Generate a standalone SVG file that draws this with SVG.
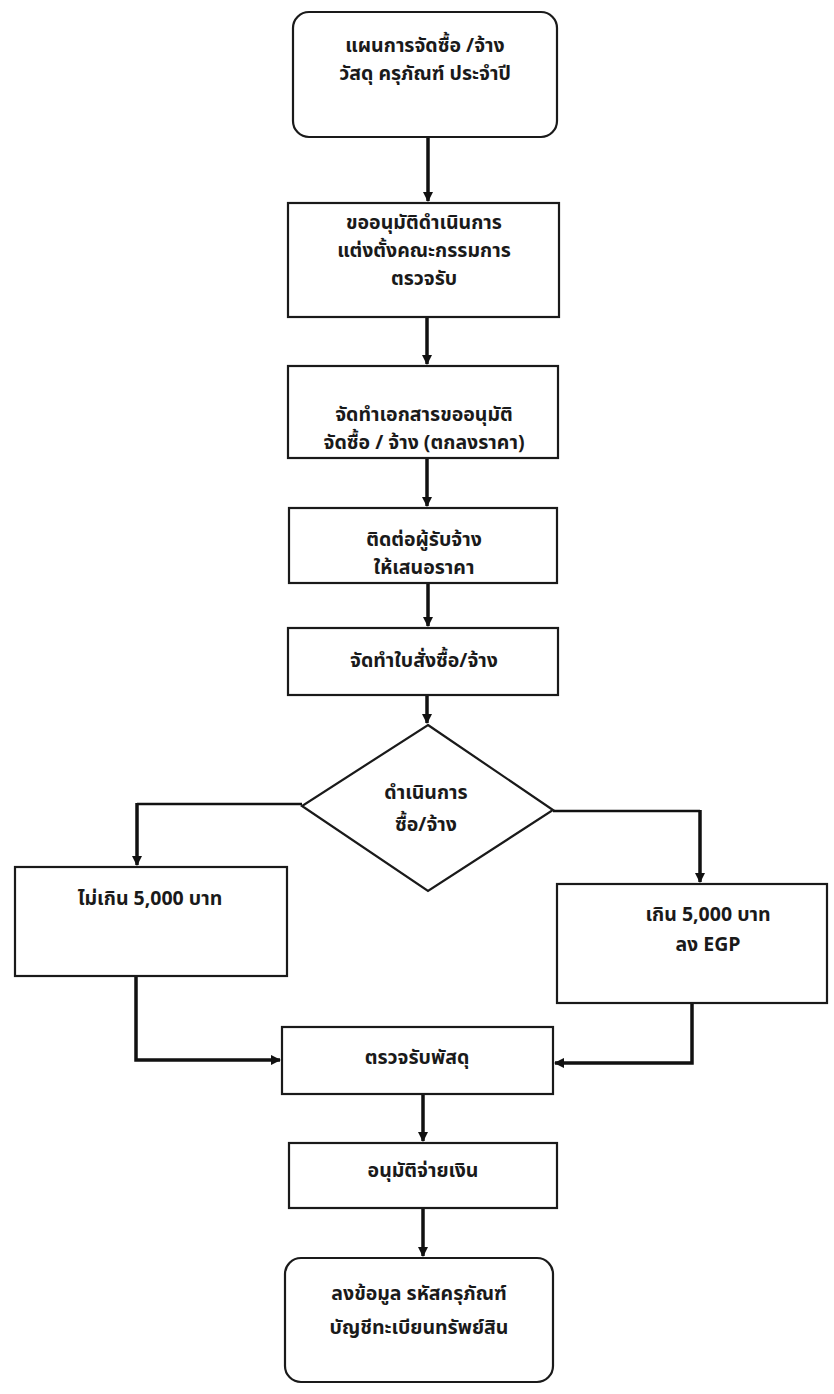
<svg xmlns="http://www.w3.org/2000/svg" width="834" height="1394" viewBox="0 0 834 1394">
<defs>
<style>
.box{fill:#fff;stroke:#1a1a1a;stroke-width:2.2}
.t{font-family:"Noto Sans Thai","Noto Sans","DejaVu Sans",sans-serif;font-size:19.5px;font-weight:bold;fill:#1a1a1a;text-anchor:middle}
.c{fill:none;stroke:#111;stroke-width:3.5}
</style>
<marker id="ah" viewBox="0 0 10 10" refX="9" refY="5" markerWidth="3" markerHeight="3" orient="auto" markerUnits="strokeWidth">
<path d="M0,0 L10,5 L0,10 Z" fill="#111"/>
</marker>
</defs>
<rect width="834" height="1394" fill="#fff"/>
<g id="connectors">
<line class="c" x1="428" y1="137" x2="428" y2="201" marker-end="url(#ah)"/>
<line class="c" x1="427" y1="317" x2="427" y2="364" marker-end="url(#ah)"/>
<line class="c" x1="427" y1="458" x2="427" y2="506" marker-end="url(#ah)"/>
<line class="c" x1="428" y1="583" x2="428" y2="626" marker-end="url(#ah)"/>
<line class="c" x1="427" y1="695" x2="427" y2="723" marker-end="url(#ah)"/>
<polyline class="c" style="stroke-width:2.5" points="302,804 137,804"/>
<line class="c" x1="137" y1="803" x2="137" y2="865" marker-end="url(#ah)"/>
<polyline class="c" style="stroke-width:2.5" points="553,811 700,811"/>
<line class="c" x1="700" y1="810" x2="700" y2="882" marker-end="url(#ah)"/>
<polyline class="c" points="136,976 136,1060 280,1060" marker-end="url(#ah)"/>
<polyline class="c" points="692,1003 692,1063 555,1063" marker-end="url(#ah)"/>
<line class="c" x1="423" y1="1094" x2="423" y2="1141" marker-end="url(#ah)"/>
<line class="c" x1="423" y1="1208" x2="423" y2="1256" marker-end="url(#ah)"/>
</g>
<g id="n1">
<rect class="box" x="293" y="12" width="264" height="125" rx="16"/>
<text class="t" x="425" y="52">แผนการจัดซื้อ /จ้าง</text>
<text class="t" x="425" y="80">วัสดุ ครุภัณฑ์ ประจำปี</text>
</g>
<g id="n2">
<rect class="box" x="288" y="203" width="271" height="114"/>
<text class="t" x="424" y="229">ขออนุมัติดำเนินการ</text>
<text class="t" x="424" y="257">แต่งตั้งคณะกรรมการ</text>
<text class="t" x="424" y="285">ตรวจรับ</text>
</g>
<g id="n3">
<rect class="box" x="288" y="366" width="270" height="92"/>
<text class="t" x="424" y="421">จัดทำเอกสารขออนุมัติ</text>
<text class="t" x="424" y="449">จัดซื้อ / จ้าง (ตกลงราคา)</text>
</g>
<g id="n4">
<rect class="box" x="289" y="508" width="268" height="75"/>
<text class="t" x="424" y="546">ติดต่อผู้รับจ้าง</text>
<text class="t" x="424" y="574">ให้เสนอราคา</text>
</g>
<g id="n5">
<rect class="box" x="288" y="628" width="270" height="67"/>
<text class="t" x="424" y="667">จัดทำใบสั่งซื้อ/จ้าง</text>
</g>
<g id="n6">
<polygon class="box" points="428,725 553,810 428,891 302,806"/>
<text class="t" x="426" y="799">ดำเนินการ</text>
<text class="t" x="426" y="831">ซื้อ/จ้าง</text>
</g>
<g id="n7">
<rect class="box" x="15" y="867" width="272" height="109"/>
<text class="t" x="150" y="905">ไม่เกิน 5,000 บาท</text>
</g>
<g id="n8">
<rect class="box" x="557" y="884" width="270" height="119"/>
<text class="t" x="708" y="921">เกิน 5,000 บาท</text>
<text class="t" x="708" y="951">ลง EGP</text>
</g>
<g id="n9">
<rect class="box" x="282" y="1027" width="271" height="67"/>
<text class="t" x="417" y="1064">ตรวจรับพัสดุ</text>
</g>
<g id="n10">
<rect class="box" x="289" y="1143" width="268" height="65"/>
<text class="t" x="423" y="1177">อนุมัติจ่ายเงิน</text>
</g>
<g id="n11">
<rect class="box" x="285" y="1258" width="268" height="124" rx="16"/>
<text class="t" x="419" y="1300">ลงข้อมูล รหัสครุภัณฑ์</text>
<text class="t" x="419" y="1334">บัญชีทะเบียนทรัพย์สิน</text>
</g>
</svg>
